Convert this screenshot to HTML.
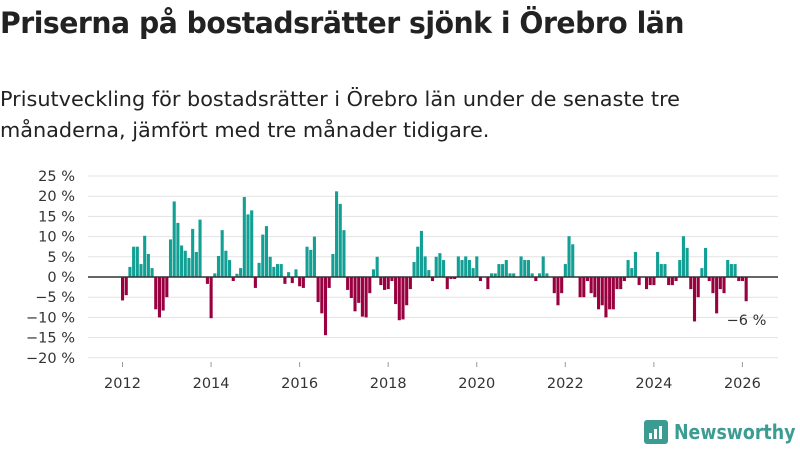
<!DOCTYPE html>
<html><head><meta charset="utf-8"><style>
body{margin:0;width:800px;height:450px;background:#fff;font-family:"Liberation Sans","DejaVu Sans",sans-serif;color:#222;overflow:hidden;position:relative}
h1{position:absolute;left:0;top:6px;margin:0;font-size:29px;font-weight:bold;font-family:"DejaVu Sans","Liberation Sans",sans-serif;letter-spacing:-0.5px;transform:scaleX(0.975);transform-origin:left;white-space:nowrap}
.sub{position:absolute;left:0;top:84px;font-size:20.8px;line-height:31px;font-family:"DejaVu Sans","Liberation Sans",sans-serif;width:800px;white-space:nowrap}
svg{position:absolute;left:0;top:0}
svg text{font-family:"DejaVu Sans","Liberation Sans",sans-serif;font-size:14.5px;fill:#333}
</style></head><body>
<h1>Priserna på bostadsrätter sjönk i Örebro län</h1>
<div class="sub">Prisutveckling för bostadsrätter i Örebro län under de senaste tre<br>månaderna, jämfört med tre månader tidigare.</div>
<svg id="c" width="800" height="450"></svg>
<div style="position:absolute;left:644px;top:420px;display:flex;align-items:center">
<div style="width:24px;height:24px;background:#3d9c92;border-radius:3px;position:relative"><div style="position:absolute;left:5px;bottom:5px;width:3px;height:6px;background:#fff"></div><div style="position:absolute;left:10px;bottom:5px;width:3px;height:10px;background:#fff"></div><div style="position:absolute;left:15px;bottom:5px;width:3px;height:13px;background:#fff"></div></div>
<span style="margin-left:6px;font-size:20px;font-weight:bold;color:#3d9c92;font-family:'DejaVu Sans','Liberation Sans',sans-serif;transform:scaleX(0.87);transform-origin:left;display:inline-block">Newsworthy</span></div>
<script>
const startYear = 2012;
const values = [-5.8,-4.5,2.5,7.5,7.5,3.2,10.2,5.7,2.2,-8,-10,-8.3,-5,9.3,18.7,13.4,7.8,6.5,4.7,11.9,6.2,14.2,0,-1.7,-10.2,0.9,5.2,11.6,6.5,4.2,-1,0.8,2.2,19.8,15.5,16.5,-2.7,3.5,10.5,12.6,5,2.5,3.2,3.2,-1.7,1.2,-1.5,1.9,-2.3,-2.7,7.5,6.7,10,-6.2,-9,-14.4,-2.7,5.7,21.2,18.1,11.6,-3.2,-5.2,-8.5,-6.4,-9.8,-10,-4,1.9,5,-2,-3.2,-3,-1,-6.7,-10.7,-10.5,-7,-3,3.7,7.5,11.4,5.1,1.7,-1,5,5.9,4.2,-3,-0.5,-0.5,5.1,4.2,5.1,4.2,2.2,5.1,-1,0,-3,0.9,0.9,3.2,3.2,4.2,0.9,0.9,0,5.1,4.2,4.2,0.9,-1,0.9,5.1,0.9,0,-4,-7,-4,3.2,10.1,8.1,0,-5,-5,-1,-4,-5,-8,-7,-10,-8,-8,-3,-3,-1,4.2,2.2,6.2,-2,0,-3,-2,-2,6.2,3.2,3.2,-2,-2,-1,4.2,10.1,7.2,-3,-11,-5,2.2,7.2,-1,-4,-9,-3,-4,4.2,3.2,3.2,-1,-1,-6];
const yTicks = [25,20,15,10,5,0,-5,-10,-15,-20];
const xTicks = [2012,2014,2016,2018,2020,2022,2024,2026];
const lastLabel = "−6 %";
const svg = document.getElementById('c');
const NS = 'http://www.w3.org/2000/svg';
const y = v => 277 - v * 4.04;
const x = m => 121 + m * 3.69;
function mk(t, a){const e=document.createElementNS(NS,t);for(const k in a)e.setAttribute(k,a[k]);svg.appendChild(e);return e;}
yTicks.forEach(t=>{
  const g=mk('line',{x1:88,x2:778,y1:y(t),y2:y(t),stroke:'#e3e3e3','stroke-width':1});
  
  
  const l=mk('text',{x:75,y:y(t)+5,'text-anchor':'end'});l.textContent=(t<0?'−'+(-t):t)+' %';
  
  
});
xTicks.forEach(yr=>{
  const m=(yr-startYear)*12;
  const tk=mk('line',{x1:x(m)+1.5,x2:x(m)+1.5,y1:362,y2:367,stroke:'#999'});
  
  
  const l=mk('text',{x:x(m)+1.5,y:388,'text-anchor':'middle'});l.textContent=yr;
  
  
});
values.forEach((v,i)=>{
  const b=mk('rect',{x:x(i),width:3.1,y:Math.min(y(v),y(0)),height:Math.abs(y(v)-y(0)),fill:v>=0?'#12a095':'#99003f'});
  
  
});
const z=mk('line',{x1:88,x2:778,y1:y(0),y2:y(0),stroke:'#333','stroke-width':1.5});


const ll=mk('text',{x:x(values.length-1)-18,y:y(values[values.length-1])+24});ll.textContent=lastLabel;


</script>
</body></html>
